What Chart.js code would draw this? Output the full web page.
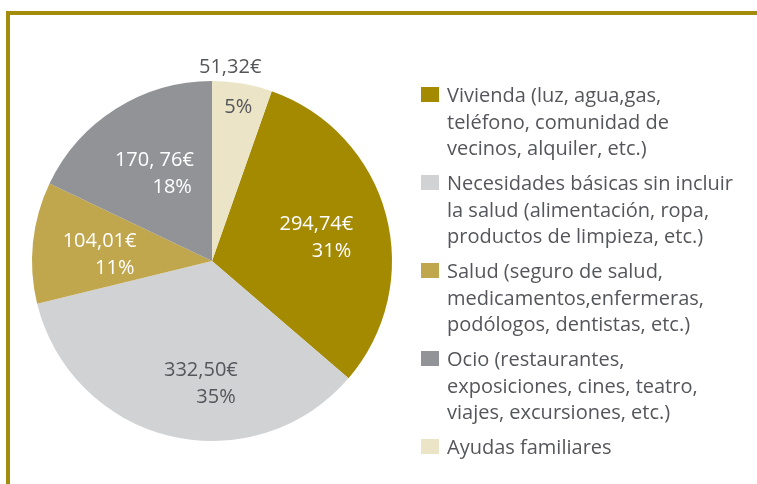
<!DOCTYPE html>
<html>
<head>
<meta charset="utf-8">
<script src="https://cdn.jsdelivr.net/npm/chart.js@4/dist/chart.umd.min.js"></script>
<style>
  html, body { margin: 0; padding: 0; background: #ffffff; }
  #wrap { position: relative; width: 757px; height: 484px; overflow: hidden; }
  #frameTop { position: absolute; left: 6px; top: 11px; width: 751px; height: 4px; background: #a38b0c; }
  #frameLeft { position: absolute; left: 6px; top: 11px; width: 4px; height: 473px; background: #a38b0c; }
  #c { position: absolute; left: 0; top: 0; }
  #legend { position: absolute; left: 421px; top: 82px; font-family: "Open Sans", sans-serif; font-size: 20px; line-height: 26.5px; color: #55565b; }
  .item { position: relative; padding-left: 26px; margin-bottom: 8.5px; white-space: nowrap; }
  .box { position: absolute; left: 0; top: 5px; width: 18px; height: 15px; }
</style>
</head>
<body>
<div id="wrap">
  <canvas id="c" width="757" height="484"></canvas>
  <div id="frameTop"></div>
  <div id="frameLeft"></div>
  <div id="legend"></div>
</div>
<script>
// ---- data ----
const categories = [
  ["Vivienda (luz, agua,gas,", "teléfono, comunidad de", "vecinos, alquiler, etc.)"],
  ["Necesidades básicas sin incluir", "la salud (alimentación, ropa,", "productos de limpieza, etc.)"],
  ["Salud (seguro de salud,", "medicamentos,enfermeras,", "podólogos, dentistas, etc.)"],
  ["Ocio (restaurantes,", "exposiciones, cines, teatro,", "viajes, excursiones, etc.)"],
  ["Ayudas familiares"]
];
const values = [294.74, 332.50, 104.01, 170.76, 51.32];
const valueLabels = ["294,74€", "332,50€", "104,01€", "170, 76€", "51,32€"];
const percentLabels = ["31%", "35%", "11%", "18%", "5%"];
const colors = ["#a38a00", "#d1d2d4", "#c0a64c", "#929397", "#ebe4c6"];
const labelColors = ["#ffffff", "#55565b", "#ffffff", "#ffffff", "#55565b"];

// ---- legend (HTML, real text) ----
const legendEl = document.getElementById('legend');
categories.forEach((lines, i) => {
  const item = document.createElement('div');
  item.className = 'item';
  const box = document.createElement('span');
  box.className = 'box';
  box.style.background = colors[i];
  item.appendChild(box);
  lines.forEach((ln, j) => {
    if (j) item.appendChild(document.createElement('br'));
    item.appendChild(document.createTextNode(ln));
  });
  legendEl.appendChild(item);
});

// ---- slice labels plugin ----
const sliceLabels = {
  id: 'sliceLabels',
  afterDatasetsDraw(chart, args, opts) {
    const ctx = chart.ctx;
    const meta = chart.getDatasetMeta(0);
    const total = values.reduce((a, b) => a + b, 0);
    const nudges = opts.nudges || [];
    ctx.save();
    ctx.font = '20px "Open Sans", sans-serif';
    ctx.textBaseline = 'middle';
    meta.data.forEach((arc, i) => {
      const p = arc.getProps(['x', 'y', 'startAngle', 'endAngle', 'outerRadius'], true);
      const mid = (p.startAngle + p.endAngle) / 2;
      const R = p.outerRadius;
      const share = values[i] / total;
      const n = nudges[i] || [0, 0];
      if (share < 0.08) {
        ctx.fillStyle = '#55565b';
        ctx.textAlign = 'center';
        const ro = R + 17;
        ctx.fillText(valueLabels[i], p.x + Math.cos(mid) * ro + n[0], p.y + Math.sin(mid) * ro);
        const ri = R * 0.87;
        ctx.fillStyle = labelColors[i];
        ctx.fillText(percentLabels[i], p.x + Math.cos(mid) * ri, p.y + Math.sin(mid) * ri + 1);
      } else {
        const r = R * 0.6;
        const ax = p.x + Math.cos(mid) * r + n[0];
        const ay = p.y + Math.sin(mid) * r + n[1];
        const w = ctx.measureText(valueLabels[i]).width;
        ctx.fillStyle = labelColors[i];
        ctx.textAlign = 'right';
        ctx.fillText(valueLabels[i], ax + w / 2, ay - 13.5);
        ctx.fillText(percentLabels[i], ax + w / 2 - 2, ay + 13.5);
      }
    });
    ctx.restore();
  }
};

const startRotation = values[4] / values.reduce((a, b) => a + b, 0) * 360;

new Chart(document.getElementById('c'), {
  type: 'pie',
  data: {
    labels: categories,
    datasets: [{
      data: values,
      backgroundColor: colors,
      borderWidth: 0
    }]
  },
  options: {
    responsive: false,
    animation: false,
    rotation: startRotation,
    layout: { padding: { left: 32, right: 365, top: 81, bottom: 43 } },
    plugins: {
      legend: { display: false },
      tooltip: { enabled: false },
      sliceLabels: { nudges: [[0, 5], [14, 18], [-5, 5], [0, 4], [-15, 0]] }
    }
  },
  plugins: [sliceLabels]
});
</script>
</body>
</html>
